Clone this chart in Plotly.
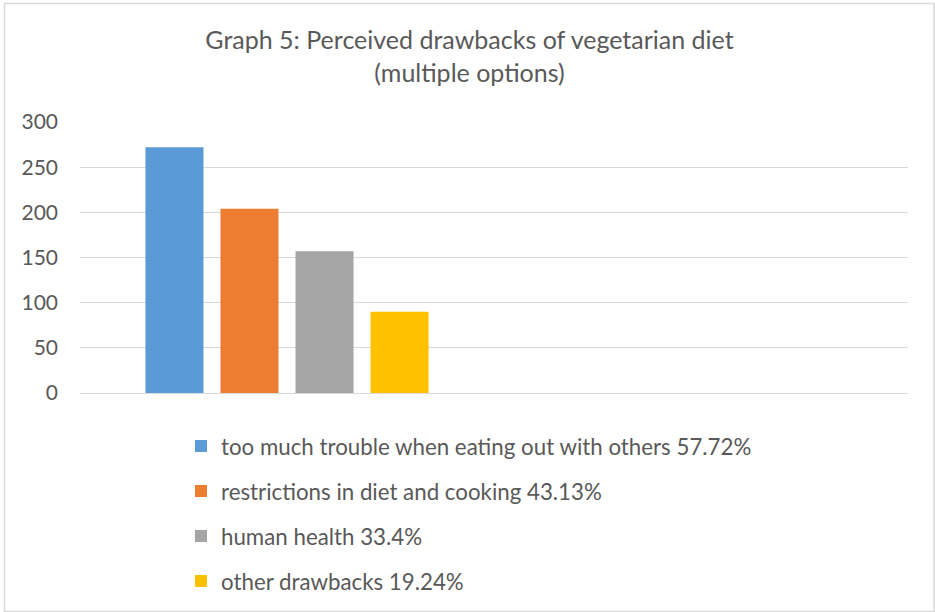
import plotly.graph_objects as go

# Data
series_names = [
    "too much trouble when eating out with others 57.72%",
    "restrictions in diet and cooking 43.13%",
    "human health 33.4%",
    "other drawbacks 19.24%",
]
series_values = [272, 204, 157, 90]
series_colors = ["#5B9BD5", "#ED7D31", "#A5A5A5", "#FFC000"]
categories = ["respondents", "blank"]
y_ticks = [0, 50, 100, 150, 200, 250, 300]

W, H = 935, 612
ml, mr, mt, mb = 80, 27, 122, 219

fig = go.Figure()
for i, (name, val, col) in enumerate(zip(series_names, series_values, series_colors)):
    fig.add_trace(go.Bar(
        x=[categories[0]], y=[val], name=name,
        marker=dict(color=col, line=dict(width=0)),
        legendgroup=f"g{i}",
    ))

font_family = "Lato, Open Sans, sans-serif"

pw = W - ml - mr
ph = H - mt - mb
def px2x(px):
    return (px - ml) / pw
def py2y(py):
    return (H - mb - py) / ph

fig.update_layout(
    width=W, height=H,
    margin=dict(l=ml, r=mr, t=mt, b=mb, autoexpand=False),
    paper_bgcolor="white", plot_bgcolor="white",
    title=dict(
        text="Graph 5: Perceived drawbacks of vegetarian diet<br>(multiple options)",
        x=469.5 / W, xanchor="center", xref="container",
        y=1 - 49 / H, yanchor="top", yref="container",
        font=dict(family=font_family, size=25, color="#595959"),
    ),
    barmode="group",
    bargap=0.275,
    bargroupgap=0.227,
    xaxis=dict(
        type="category", categoryorder="array", categoryarray=categories,
        range=[-0.5, 1.5], showticklabels=False, showgrid=False,
        showline=False, zeroline=False, ticks="",
    ),
    yaxis=dict(
        range=[0, 300], tickvals=y_ticks, showgrid=True, gridcolor="#D9D9D9",
        gridwidth=1, zeroline=True, zerolinecolor="#D9D9D9", zerolinewidth=1,
        showline=False, ticks="", ticklabelstandoff=21,
        tickfont=dict(family=font_family, size=21, color="#595959"),
    ),
    showlegend=True,
    legend=dict(
        orientation="v", x=px2x(181), xanchor="left",
        y=py2y(425), yanchor="top",
        traceorder="grouped", tracegroupgap=13,
        font=dict(family=font_family, size=22.3, color="#595959"),
        itemwidth=30,
        bgcolor="rgba(0,0,0,0)",
    ),
    shapes=[dict(
        type="rect", xref="paper", yref="paper",
        x0=px2x(4.5), x1=px2x(934), y0=py2y(611.5), y1=py2y(3.5),
        line=dict(color="#D9D9D9", width=1.5), fillcolor="rgba(0,0,0,0)",
        layer="below",
    )],
)

fig.write_html("out.html")
